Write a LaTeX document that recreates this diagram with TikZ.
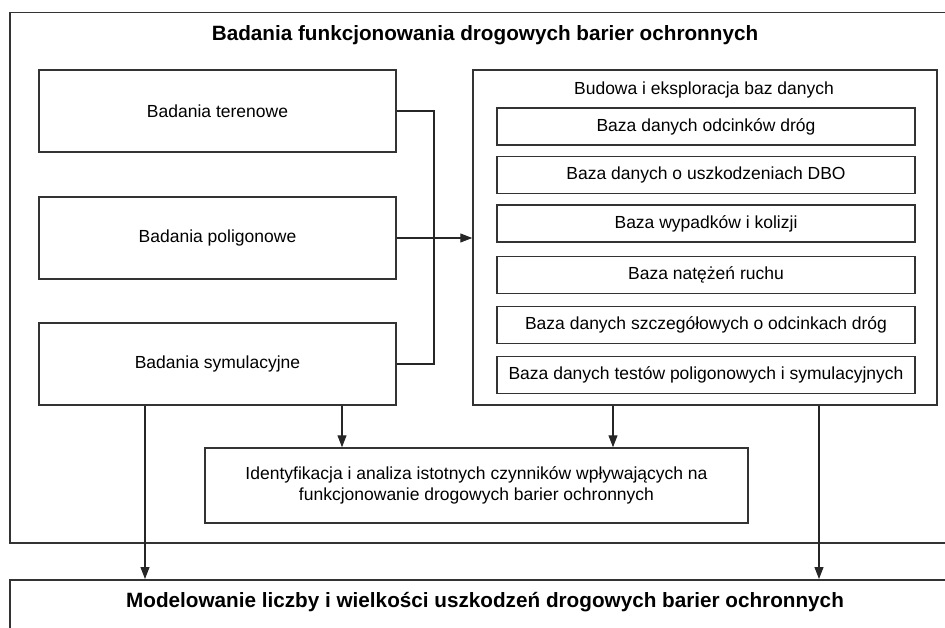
\documentclass[tikz,border=0pt]{standalone}
\usepackage{fontspec}
\setmainfont{Liberation Sans}
\usetikzlibrary{arrows.meta}

\tikzset{
  box/.style={draw=black!80, line width=1.5pt, fill=white, align=center,
    inner sep=0pt, font=\fontsize{17.5}{21.5}\selectfont},
  studybox/.style={box, minimum width=357pt, minimum height=82pt},
  basebox/.style={box, minimum width=418pt, minimum height=37pt},
  frame/.style={draw=black!80, line width=1.5pt, anchor=north west, inner sep=0pt},
  heading/.style={font=\fontsize{20.7}{24}\selectfont\bfseries, inner sep=0pt},
  link/.style={draw=black!85, line width=1.1pt},
  arr/.style={link, -{Triangle[length=12pt,width=9pt]}}
}

\begin{document}
\begin{tikzpicture}[x=1pt, y=-1pt]
\useasboundingbox (0,0) rectangle (945,628);

% outer frame and bottom frame
\node[frame, minimum width=946pt, minimum height=530pt] (outer) at (9,12) {};
\node[heading] (outertitle) at (485,35) {Badania funkcjonowania drogowych barier ochronnych};
\node[frame, minimum width=946pt, minimum height=61pt] (model) at (9,579) {};
\node[heading] (modeltitle) at (485,602) {Modelowanie liczby i wielkości uszkodzeń drogowych barier ochronnych};

% studies
\node[studybox] (ter) at (217.5,111) {Badania terenowe};
\node[studybox] (pol) at (217.5,238) {Badania poligonowe};
\node[studybox] (sym) at (217.5,364) {Badania symulacyjne};

% databases
\node[box, minimum width=464pt, minimum height=335pt] (db) at (705,237.5) {};
\node[inner sep=0pt, font=\fontsize{17.5}{21.5}\selectfont] (dbtitle) at (704,90) {Budowa i eksploracja baz danych};
\node[basebox] (b1) at (706,126.5) {Baza danych odcinków dróg};
\node[basebox] (b2) at (706,175) {Baza danych o uszkodzeniach DBO};
\node[basebox] (b3) at (706,223.5) {Baza wypadków i kolizji};
\node[basebox] (b4) at (706,275) {Baza natężeń ruchu};
\node[basebox] (b5) at (706,325) {Baza danych szczegółowych o odcinkach dróg};
\node[basebox] (b6) at (706,375) {Baza danych testów poligonowych i symulacyjnych};

% analysis
\node[box, minimum width=543pt, minimum height=75pt] (ident) at (476.5,485.5)
  {Identyfikacja i analiza istotnych czynników wpływających na\\funkcjonowanie drogowych barier ochronnych};

% connectors
\coordinate (bus) at (434,238);
\draw[link] (ter.east) -| (bus) |- (sym.east);
\draw[arr] (pol.east) -- (pol.east -| db.west);
\draw[arr] ([xshift=-72.5pt]sym.south) -- ([xshift=-72.5pt]sym.south |- model.north);
\draw[arr] ([xshift=124.5pt]sym.south) -- ([xshift=124.5pt]sym.south |- ident.north);
\draw[arr] ([xshift=-92pt]db.south) -- ([xshift=-92pt]db.south |- ident.north);
\draw[arr] ([xshift=114pt]db.south) -- ([xshift=114pt]db.south |- model.north);
\end{tikzpicture}
\end{document}
